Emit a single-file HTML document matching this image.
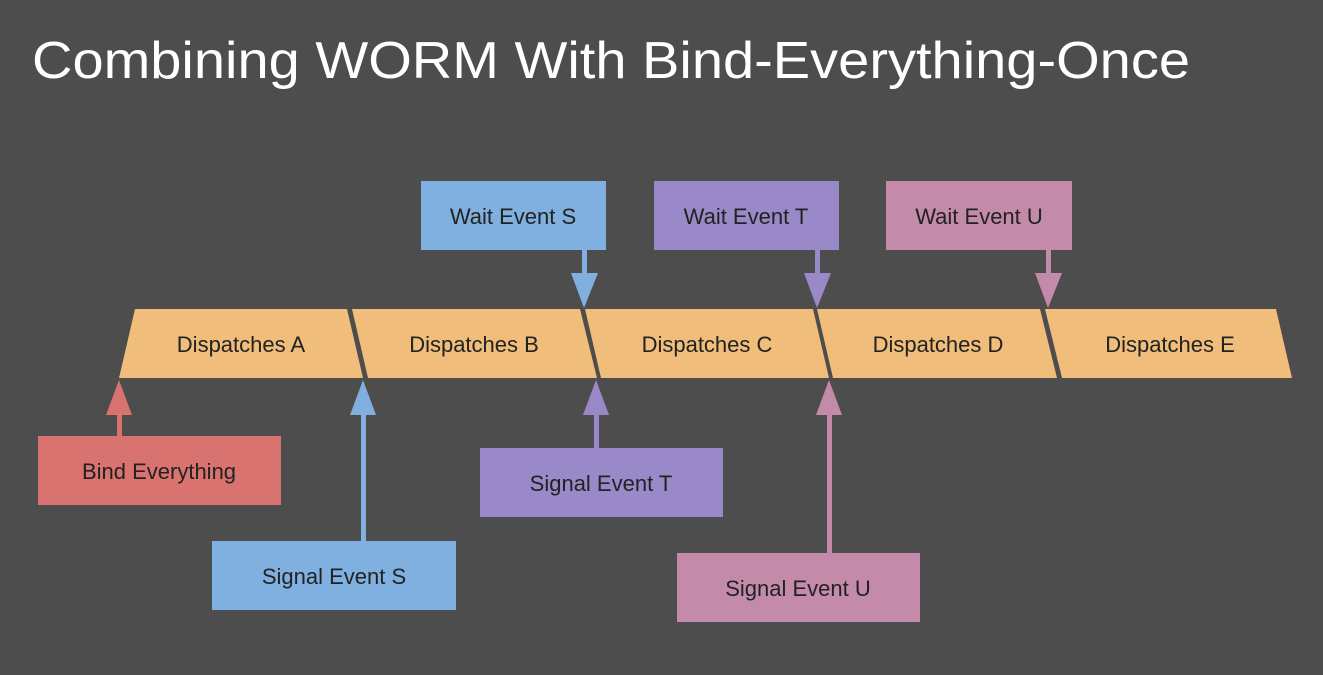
<!DOCTYPE html>
<html><head><meta charset="utf-8"><style>
html,body{margin:0;padding:0;background:#4d4d4d;}
svg{display:block;}
text{font-family:"Liberation Sans","DejaVu Sans",sans-serif;}
</style></head><body>
<svg width="1323" height="675" viewBox="0 0 1323 675" xmlns="http://www.w3.org/2000/svg">
<rect width="1323" height="675" fill="#4d4d4d"/>
<text x="32" y="78" font-size="52" fill="#ffffff" textLength="1158" lengthAdjust="spacingAndGlyphs">Combining WORM With Bind-Everything-Once</text>

<g fill="#f0bd7a">
<polygon points="135,309 347,309 363,378 119,378"/>
<polygon points="352,309 580,309 597,378 368,378"/>
<polygon points="585,309 813,309 829,378 601,378"/>
<polygon points="817,309 1040,309 1057,378 833,378"/>
<polygon points="1045,309 1276,309 1292,378 1062,378"/>
</g>
<g font-size="22" fill="#222" text-anchor="middle">
<text x="241" y="352">Dispatches A</text>
<text x="474" y="352">Dispatches B</text>
<text x="707" y="352">Dispatches C</text>
<text x="938" y="352">Dispatches D</text>
<text x="1170" y="352">Dispatches E</text>
</g>

<!-- wait boxes -->
<rect x="421" y="181" width="185" height="69" fill="#7fb0e0"/>
<rect x="654" y="181" width="185" height="69" fill="#9a89c8"/>
<rect x="886" y="181" width="186" height="69" fill="#c48aaa"/>
<g font-size="22" fill="#222" text-anchor="middle">
<text x="513" y="224">Wait Event S</text>
<text x="746" y="224">Wait Event T</text>
<text x="979" y="224">Wait Event U</text>
</g>
<!-- down arrows -->
<g>
<rect x="582" y="250" width="5" height="24" fill="#7fb0e0"/>
<polygon points="571,273 598,273 584,308" fill="#7fb0e0"/>
<rect x="815" y="250" width="5" height="24" fill="#9a89c8"/>
<polygon points="804,273 831,273 817,308" fill="#9a89c8"/>
<rect x="1046" y="250" width="5" height="24" fill="#c48aaa"/>
<polygon points="1035,273 1062,273 1048,308" fill="#c48aaa"/>
</g>

<!-- bottom boxes -->
<rect x="38" y="436" width="243" height="69" fill="#d97370"/>
<rect x="212" y="541" width="244" height="69" fill="#7fb0e0"/>
<rect x="480" y="448" width="243" height="69" fill="#9a89c8"/>
<rect x="677" y="553" width="243" height="69" fill="#c48aaa"/>
<g font-size="22" fill="#222" text-anchor="middle">
<text x="159" y="479">Bind Everything</text>
<text x="334" y="584">Signal Event S</text>
<text x="601" y="491">Signal Event T</text>
<text x="798" y="596">Signal Event U</text>
</g>
<!-- up arrows -->
<rect x="117" y="414" width="5" height="22" fill="#d97370"/>
<polygon points="106,415 132,415 119,380" fill="#d97370"/>
<rect x="361" y="414" width="5" height="127" fill="#7fb0e0"/>
<polygon points="350,415 376,415 363,380" fill="#7fb0e0"/>
<rect x="594" y="414" width="5" height="34" fill="#9a89c8"/>
<polygon points="583,415 609,415 596,380" fill="#9a89c8"/>
<rect x="827" y="414" width="5" height="139" fill="#c48aaa"/>
<polygon points="816,415 842,415 829,380" fill="#c48aaa"/>
</svg>
</body></html>
